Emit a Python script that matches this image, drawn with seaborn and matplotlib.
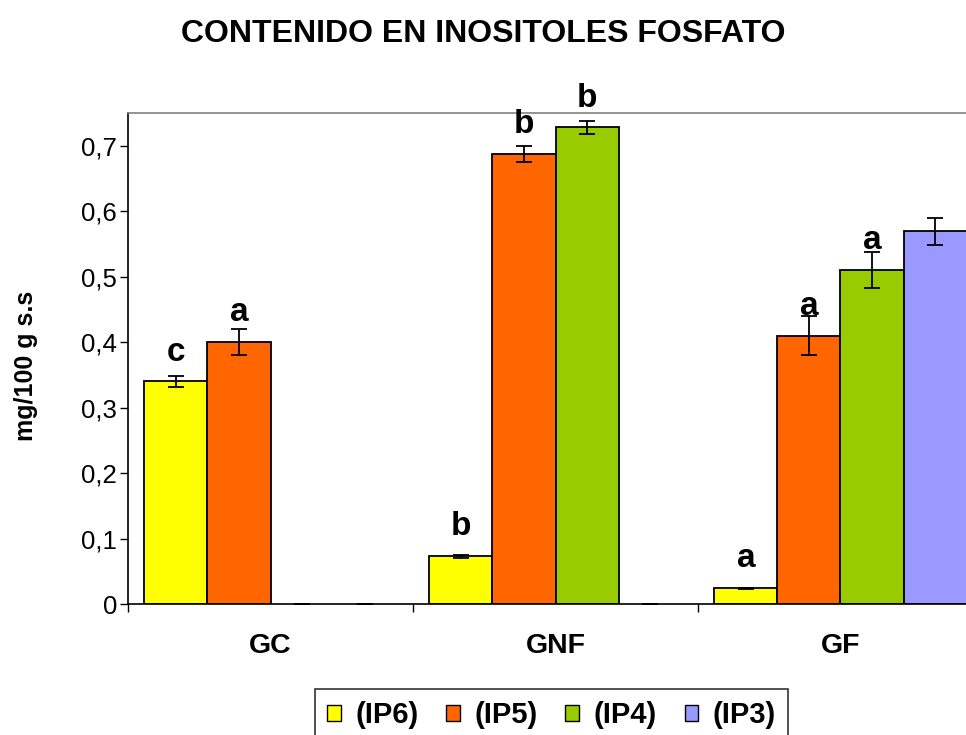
import numpy as np
import pandas as pd
import matplotlib
matplotlib.use("Agg")
import matplotlib.pyplot as plt
import seaborn as sns
from matplotlib.patches import Patch
from matplotlib.container import BarContainer

# ---- data ----
groups = ["GC", "GNF", "GF"]
series = ["(IP6)", "(IP5)", "(IP4)", "(IP3)"]
ip6 = [0.34, 0.073, 0.024]
ip5 = [0.40, 0.687, 0.41]
ip4 = [0.0, 0.728, 0.51]
ip3 = [0.0, 0.0, 0.569]
err_ip6 = [0.008, 0.002, 0.001]
err_ip5 = [0.02, 0.012, 0.03]
err_ip4 = [0.0, 0.01, 0.028]
err_ip3 = [0.0, 0.0, 0.02]
letters_ip6 = ["c", "b", "a"]
letters_ip5 = ["a", "b", "a"]
letters_ip4 = ["", "b", "a"]
letters_ip3 = ["", "", ""]
yticks = [0, 0.1, 0.2, 0.3, 0.4, 0.5, 0.6, 0.7]
ytick_labels = ["0", "0,1", "0,2", "0,3", "0,4", "0,5", "0,6", "0,7"]

colors = ["#FFFF00", "#FF6600", "#99CC00", "#9999FF"]

values = [ip6, ip5, ip4, ip3]
errors = [err_ip6, err_ip5, err_ip4, err_ip3]
letters = [letters_ip6, letters_ip5, letters_ip4, letters_ip3]

rows = []
for s, vals in zip(series, values):
    for g, v in zip(groups, vals):
        rows.append({"grupo": g, "serie": s, "valor": v})
df = pd.DataFrame(rows)

sns.set_theme(style="white")
plt.rcParams["font.family"] = ["Liberation Sans", "DejaVu Sans"]
plt.rcParams.update({"text.color": "black", "axes.labelcolor": "black",
                     "xtick.color": "black", "ytick.color": "black"})

fig = plt.figure(figsize=(9.66, 7.35), dpi=100)
ax = fig.add_axes([128 / 966, 1 - 604 / 735, 855 / 966, (604 - 113) / 735])

sns.barplot(data=df, x="grupo", y="valor", hue="serie", order=groups,
            hue_order=series, palette=colors, width=0.885, errorbar=None,
            edgecolor="black", linewidth=1.3, saturation=1, ax=ax, legend=False)

bar_containers = [c for c in ax.containers if isinstance(c, BarContainer)]

# error bars and significance letters on each bar
for k, cont in enumerate(bar_containers):
    for j, bar in enumerate(cont.patches):
        xc = bar.get_x() + bar.get_width() / 2
        h = values[k][j]
        if h == 0:
            bar.set_linewidth(0)
        ax.errorbar(xc, h, yerr=errors[k][j], fmt="none", ecolor="black",
                    elinewidth=1.3, capsize=6, capthick=1.3, zorder=5,
                    clip_on=False)
        if letters[k][j]:
            ax.annotate(letters[k][j], (xc, h), xytext=(0, 15),
                        textcoords="offset points", ha="center", va="baseline",
                        fontsize=24, fontweight="bold", color="black")

ax.set_ylim(0, 0.75)
ax.set_xlim(-0.5, 2.5)
ax.set_yticks(yticks)
ax.set_yticklabels(ytick_labels, fontsize=18.5)
ax.set_xticks([0, 1, 2])
ax.set_xticklabels(groups, fontsize=20.5, fontweight="bold")
ax.set_xticks([-0.5, 0.5, 1.5, 2.5], minor=True)
ax.tick_params(axis="x", which="major", length=0, pad=21)
ax.tick_params(axis="x", which="minor", length=6, width=1, color="black",
               direction="out", bottom=True)
ax.tick_params(axis="y", length=6, width=1, color="black", direction="out",
               left=True, pad=2)
ax.set_xlabel("")
ax.set_ylabel("mg/100 g s.s", fontsize=18, fontweight="bold")
ax.yaxis.set_label_coords(-0.105, 0.485)

for side in ["left", "bottom"]:
    ax.spines[side].set_color("black")
    ax.spines[side].set_linewidth(1.2)
ax.spines["top"].set_color("#808080")
ax.spines["top"].set_linewidth(1.2)
ax.spines["right"].set_visible(False)

fig.text(0.5, 1 - 42 / 735, "CONTENIDO EN INOSITOLES FOSFATO", ha="center",
         va="baseline", fontsize=23, fontweight="bold")

handles = [Patch(facecolor=c, edgecolor="black", linewidth=1.0) for c in colors]
leg = fig.legend(handles, series, loc="upper center",
                 bbox_to_anchor=(0.571, 1 - 689 / 735), ncol=4, frameon=True,
                 prop={"size": 21, "weight": "bold"}, handlelength=0.47,
                 handleheight=0.47, handletextpad=0.5, columnspacing=0.95,
                 borderpad=0.42, borderaxespad=0, fancybox=False)
leg.get_frame().set_edgecolor("black")
leg.get_frame().set_linewidth(1.2)

fig.savefig("out.png", dpi=100)
